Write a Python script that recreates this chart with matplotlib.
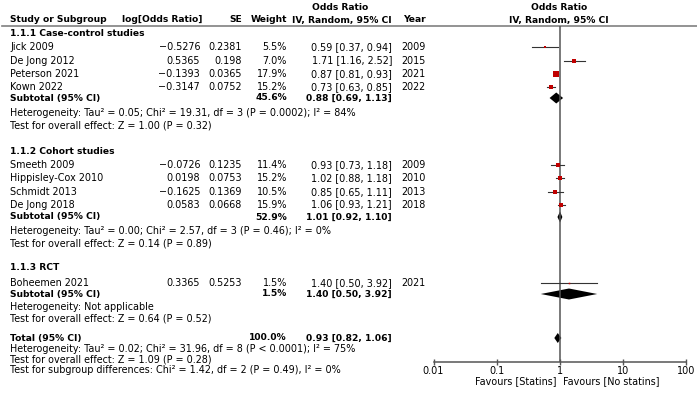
import numpy as np
import matplotlib
matplotlib.use("Agg")
import matplotlib.pyplot as plt

# study level data
studies = ["Jick 2009", "De Jong 2012", "Peterson 2021", "Kown 2022",
           "Smeeth 2009", "Hippisley-Cox 2010", "Schmidt 2013", "De Jong 2018",
           "Boheemen 2021"]
log_or = ["-0.5276", "0.5365", "-0.1393", "-0.3147",
          "-0.0726", "0.0198", "-0.1625", "0.0583", "0.3365"]
se = ["0.2381", "0.198", "0.0365", "0.0752",
      "0.1235", "0.0753", "0.1369", "0.0668", "0.5253"]
weight = [5.5, 7.0, 17.9, 15.2, 11.4, 15.2, 10.5, 15.9, 1.5]
odds = [0.59, 1.71, 0.87, 0.73, 0.93, 1.02, 0.85, 1.06, 1.40]
ci_lo = [0.37, 1.16, 0.81, 0.63, 0.73, 0.88, 0.65, 0.93, 0.50]
ci_hi = [0.94, 2.52, 0.93, 0.85, 1.18, 1.18, 1.11, 1.21, 3.92]
years = [2009, 2015, 2021, 2022, 2009, 2010, 2013, 2018, 2021]
group = [0, 0, 0, 0, 1, 1, 1, 1, 2]

# subgroup data
group_titles = ["1.1.1 Case-control studies", "1.1.2 Cohort studies", "1.1.3 RCT"]
sub_weight = [45.6, 52.9, 1.5]
sub_or = [0.88, 1.01, 1.40]
sub_lo = [0.69, 0.92, 0.50]
sub_hi = [1.13, 1.10, 3.92]
sub_het = ["Heterogeneity: Tau² = 0.05; Chi² = 19.31, df = 3 (P = 0.0002); I² = 84%",
           "Heterogeneity: Tau² = 0.00; Chi² = 2.57, df = 3 (P = 0.46); I² = 0%",
           "Heterogeneity: Not applicable"]
sub_test = ["Test for overall effect: Z = 1.00 (P = 0.32)",
            "Test for overall effect: Z = 0.14 (P = 0.89)",
            "Test for overall effect: Z = 0.64 (P = 0.52)"]

total_weight = 100.0
total_or, total_lo, total_hi = 0.93, 0.82, 1.06
total_lines = ["Heterogeneity: Tau² = 0.02; Chi² = 31.96, df = 8 (P < 0.0001); I² = 75%",
               "Test for overall effect: Z = 1.09 (P = 0.28)",
               "Test for subgroup differences: Chi² = 1.42, df = 2 (P = 0.49), I² = 0%"]

# layout (pixel rows)
title_y = [33, 151, 268]
study_y = [47, 60.5, 74, 87, 165, 178, 192, 204.5, 283]
sub_y = [98, 217, 294]
het_y = [113, 231, 307.5]
test_y = [125, 243, 318.5]
total_y = 338
total_line_y = [349.5, 359.5, 370]

W, H = 697, 396
FS = 6.95
FS_B = 6.55
plt.rcParams["font.family"] = "DejaVu Sans"
fig = plt.figure(figsize=(W / 100, H / 100), dpi=100)
ax = fig.add_axes([0, 0, 1, 1])
ax.set_xlim(0, W)
ax.set_ylim(H, 0)
ax.axis("off")

def txt(x, y, s, ha="left", bold=False):
    ax.text(x, y, s, ha=ha, va="center", fontsize=FS_B if bold else FS,
            fontweight="bold" if bold else "normal", color="black")

x_name, x_log, x_se, x_w, x_or, x_year = 10, 200, 242, 287, 392, 401

# header
txt(340, 7, "Odds Ratio", ha="center", bold=True)
txt(559, 7, "Odds Ratio", ha="center", bold=True)
txt(x_name, 20, "Study or Subgroup", bold=True)
txt(122, 20, "log[Odds Ratio]", bold=True)
txt(x_se, 20, "SE", ha="right", bold=True)
txt(x_w, 20, "Weight", ha="right", bold=True)
txt(x_or, 20, "IV, Random, 95% CI", ha="right", bold=True)
txt(403, 20, "Year", bold=True)
txt(559, 20, "IV, Random, 95% CI", ha="center", bold=True)
ax.plot([2, W], [26, 26], color="#808080", lw=1.2)

for g in range(3):
    txt(x_name, title_y[g], group_titles[g], bold=True)
    txt(x_name, sub_y[g], "Subtotal (95% CI)", bold=True)
    txt(x_w, sub_y[g], f"{sub_weight[g]:.1f}%", ha="right", bold=True)
    txt(x_or, sub_y[g], f"{sub_or[g]:.2f} [{sub_lo[g]:.2f}, {sub_hi[g]:.2f}]", ha="right", bold=True)
    txt(x_name, het_y[g], sub_het[g])
    txt(x_name, test_y[g], sub_test[g])

for i in range(len(studies)):
    y = study_y[i]
    txt(x_name, y, studies[i])
    txt(x_log, y, log_or[i].replace("-", "\u2212"), ha="right")
    txt(x_se, y, se[i], ha="right")
    txt(x_w, y, f"{weight[i]:.1f}%", ha="right")
    txt(x_or, y, f"{odds[i]:.2f} [{ci_lo[i]:.2f}, {ci_hi[i]:.2f}]", ha="right")
    txt(x_year, y, str(years[i]))

txt(x_name, total_y, "Total (95% CI)", bold=True)
txt(x_w, total_y, f"{total_weight:.1f}%", ha="right", bold=True)
txt(x_or, total_y, f"{total_or:.2f} [{total_lo:.2f}, {total_hi:.2f}]", ha="right", bold=True)
for s, y in zip(total_lines, total_line_y):
    txt(x_name, y, s)

# forest plot
x0, x1 = 433.5, 686
fx = fig.add_axes([x0 / W, 0, (x1 - x0) / W, 1])
fx.set_xscale("log")
fx.set_xlim(0.01, 100)
fx.set_ylim(H, 0)
fx.patch.set_alpha(0)
for sp in ["top", "left", "right"]:
    fx.spines[sp].set_visible(False)
fx.spines["bottom"].set_position(("data", 361.5))
fx.spines["bottom"].set_color("#555555")
fx.spines["bottom"].set_linewidth(1.1)
fx.set_yticks([])
fx.set_xticks([0.01, 0.1, 1, 10, 100])
fx.set_xticklabels(["0.01", "0.1", "1", "10", "100"], fontsize=FS)
fx.xaxis.set_minor_locator(matplotlib.ticker.NullLocator())
fx.tick_params(axis="x", direction="inout", length=5, width=1, color="#555555", pad=1)
fx.vlines(1, 26, 361.5, color="#555555", lw=1.1)

for i in range(len(studies)):
    y = study_y[i]
    fx.plot([ci_lo[i], ci_hi[i]], [y, y], color="#333333", lw=0.8)
    fx.plot(odds[i], y, marker="s", color="#c00000", markersize=np.sqrt(weight[i]) * 0.9,
            markeredgewidth=0)

def diamond(y, m, lo, hi, h=5):
    fx.fill([lo, m, hi, m], [y, y - h, y, y + h], color="black", lw=0)

for g in range(3):
    diamond(sub_y[g], sub_or[g], sub_lo[g], sub_hi[g], h=5.5)
diamond(total_y, total_or, total_lo, total_hi, h=5)

fx.text(0.9, 381, "Favours [Statins]", ha="right", va="center", fontsize=FS)
fx.text(1.12, 381, "Favours [No statins]", ha="left", va="center", fontsize=FS)

fig.savefig("out.png", dpi=100)
